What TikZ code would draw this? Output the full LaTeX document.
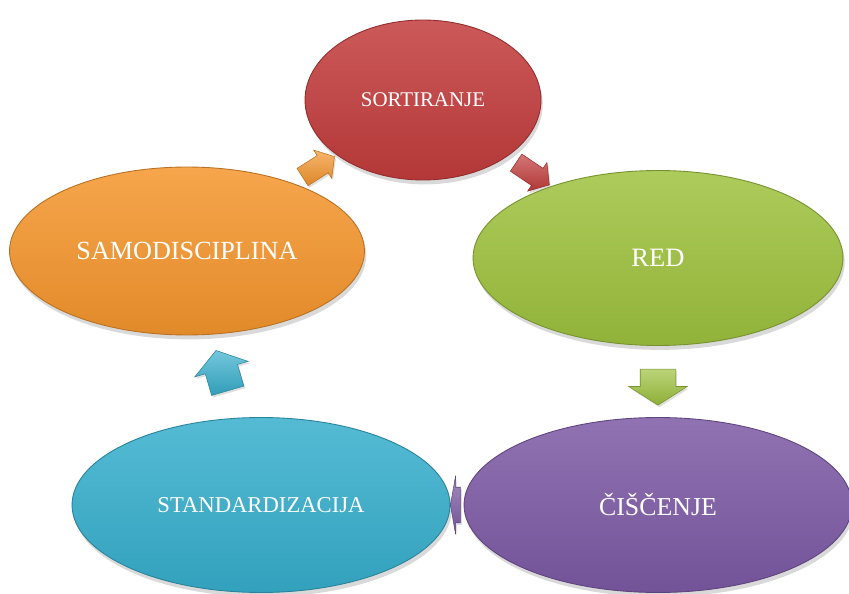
\documentclass[tikz,border=0pt]{standalone}
\usepackage{fontspec}
\setmainfont{Liberation Serif}
\usetikzlibrary{shapes.geometric,shapes.arrows,shadows}

\definecolor{sortred}{HTML}{C33C3C}
\definecolor{redgreen}{HTML}{9EC23E}
\definecolor{cistpurple}{HTML}{7D5AA5}
\definecolor{standcyan}{HTML}{37AFCD}
\definecolor{samoorange}{HTML}{F5962D}

\begin{document}
\begin{tikzpicture}[
    x = 0.02cm, y = -0.02cm,
    stage/.style = {ellipse, inner sep = 0pt, text = white,
        draw = #1!75!black, line width = 0.5pt,
        top color = #1!85!white, bottom color = #1!92!black,
        drop shadow = {opacity = 0.3, shadow xshift = 1pt, shadow yshift = -2.5pt}},
    flow/.style = {single arrow, inner sep = 0pt, sloped, allow upside down,
        text depth = 0pt, draw = #1!75!black, line width = 0.3pt,
        top color = #1!70!white, bottom color = #1!90!black,
        drop shadow = {opacity = 0.25, shadow xshift = 0.8pt, shadow yshift = -1.2pt}}]

\useasboundingbox (0,0) rectangle (849,594);

\node[stage = sortred, minimum width = 4.72cm, minimum height = 3.2cm,
      font = \fontsize{11.9}{14}\selectfont] (sort) at (423,100) {SORTIRANJE};
\node[stage = redgreen, minimum width = 7.4cm, minimum height = 3.5cm,
      font = \fontsize{15.1}{18}\selectfont] (red) at (658,258) {RED};
\node[stage = cistpurple, minimum width = 7.76cm, minimum height = 3.5cm,
      font = \fontsize{14.7}{18}\selectfont] (cisc) at (658,505) {ČIŠČENJE};
\node[stage = standcyan, minimum width = 7.56cm, minimum height = 3.5cm,
      font = \fontsize{12.9}{16}\selectfont] (stand) at (261,505) {STANDARDIZACIJA};
\node[stage = samoorange, minimum width = 7.1cm, minimum height = 3.36cm,
      font = \fontsize{14.9}{18}\selectfont] (samo) at (187,251) {SAMODISCIPLINA};

% block arrows between the stages
\path (sort) -- node[flow = sortred, minimum height = 0.8cm, text height = 0.4cm,
      single arrow head extend = 0.14cm, single arrow tip angle = 100] {} (red);
\path (red) -- node[flow = redgreen, minimum height = 0.72cm, text height = 0.7cm,
      single arrow head extend = 0.23cm, single arrow tip angle = 115] {} (cisc);
\path (cisc) -- node[flow = cistpurple, minimum height = 0.2cm, text height = 0.7cm,
      single arrow head extend = 0.23cm, single arrow tip angle = 160] {} (stand);
\path (stand) -- node[flow = standcyan, minimum height = 0.84cm, text height = 0.66cm,
      single arrow head extend = 0.22cm, single arrow tip angle = 110] {} (samo);
\path (samo) -- node[flow = samoorange, minimum height = 0.76cm, text height = 0.4cm,
      single arrow head extend = 0.13cm, single arrow tip angle = 100] {} (sort);
\end{tikzpicture}
\end{document}
